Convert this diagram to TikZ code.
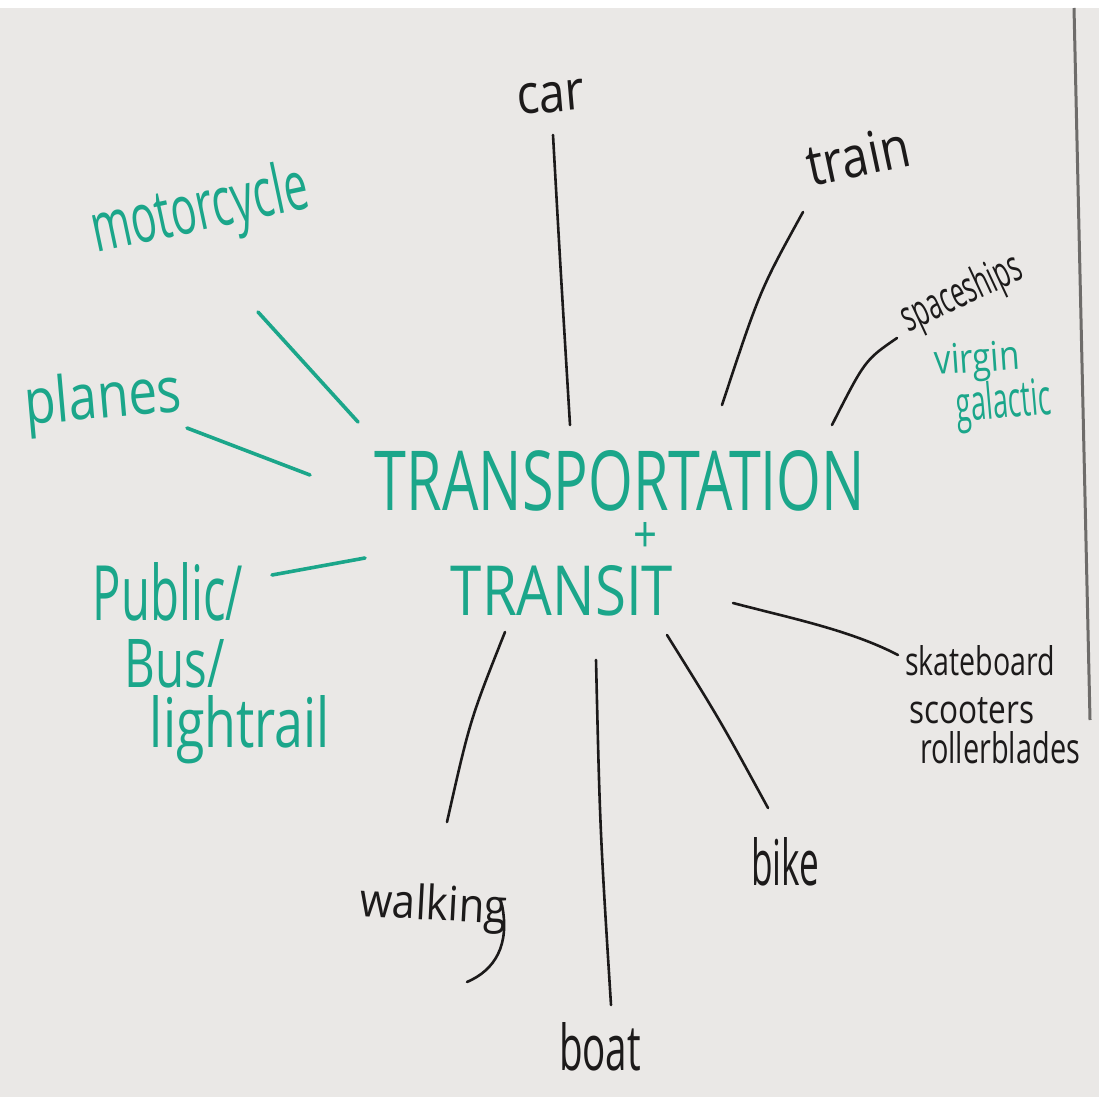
\documentclass[tikz,border=0pt]{standalone}
\usepackage{fontspec}
\setmainfont{Open Sans}
\definecolor{board}{HTML}{EAE8E6}
\definecolor{markteal}{HTML}{1BA68A}
\definecolor{ink}{HTML}{1C1A1A}
\definecolor{frame}{HTML}{6E6C6A}
\newcommand{\fwh}[3]{\resizebox{#1pt}{#2pt}{#3}}
\begin{document}
\begin{tikzpicture}[x=1pt,y=-1pt,
  lbl/.style={inner sep=0pt,text=ink,anchor=base},
  tlbl/.style={inner sep=0pt,text=markteal,anchor=base},
  bline/.style={draw=ink,line width=2.6pt,line cap=round},
  tline/.style={draw=markteal,line width=3.6pt,line cap=round}]
\useasboundingbox (0,0) rectangle (1099,1097);
\fill[board] (0,0) rectangle (1099,1097);
\fill[white] (0,0) rectangle (1099,8);
\draw[frame,line width=3pt] (1074,8) -- (1090,720);

% centre
\node[tlbl] (title) at (620,510) {\fwh{490}{60}{TRANSPORTATION}};
\node[tlbl] (plus) at (645,552) {\fwh{24}{30}{+}};
\node[tlbl] (transit) at (562,615) {\fwh{222}{50}{TRANSIT}};

% labels (placed at their baselines)
\node[lbl,rotate=5] (car) at (552,112) {\fwh{68}{30}{car}};
\node[lbl,rotate=12] (train) at (862,176) {\fwh{104}{42}{train}};
\node[lbl,rotate=25] (space) at (967,305) {\fwh{128}{33}{spaceships}};
\node[tlbl,rotate=4] (virgin) at (978,372) {\fwh{85}{30}{virgin}};
\node[tlbl,rotate=5] (galactic) at (1005,418) {\fwh{95}{38}{galactic}};
\node[tlbl,rotate=12] (moto) at (204,230) {\fwh{220}{52}{motorcycle}};
\node[tlbl,rotate=5] (planes) at (105,418) {\fwh{157}{48}{planes}};
\node[tlbl] (public) at (168,620) {\fwh{150}{58}{Public/}};
\node[tlbl] (bus) at (175,687) {\fwh{100}{48}{Bus/}};
\node[tlbl] (light) at (240,747) {\fwh{180}{52}{lightrail}};
\node[lbl] (skate) at (980,675) {\fwh{150}{30}{skateboard}};
\node[lbl] (scoot) at (972,723) {\fwh{125}{26}{scooters}};
\node[lbl] (roller) at (1000,763) {\fwh{160}{32}{rollerblades}};
\node[lbl] (bike) at (785,885) {\fwh{68}{48}{bike}};
\node[lbl] (boat) at (600,1070) {\fwh{82}{48}{boat}};
\node[lbl,rotate=-3] (walking) at (433,920) {\fwh{147}{36}{walking}};

% connector end points
\coordinate (car-a) at (553,135);   \coordinate (car-b) at (570,425);
\coordinate (train-a) at (803,212); \coordinate (train-b) at (722,405);
\coordinate (space-a) at (897,338); \coordinate (space-b) at (832,425);
\coordinate (moto-a) at (258,312);  \coordinate (moto-b) at (358,422);
\coordinate (planes-a) at (187,428);\coordinate (planes-b) at (310,475);
\coordinate (pub-a) at (272,575);   \coordinate (pub-b) at (365,558);
\coordinate (skate-a) at (733,603); \coordinate (skate-b) at (898,655);
\coordinate (bike-a) at (667,635);  \coordinate (bike-b) at (768,808);
\coordinate (boat-a) at (596,660);  \coordinate (boat-b) at (611,1005);
\coordinate (walk-a) at (505,632);  \coordinate (walk-b) at (447,822);
\coordinate (tail-a) at (502,905);  \coordinate (tail-b) at (467,982);

\draw[bline] (car-a) .. controls (560,260) .. (car-b);
\draw[bline] (train-a) .. controls (760,290) .. (train-b);
\draw[bline] (space-a) .. controls (865,360) .. (space-b);
\draw[tline] (moto-a) -- (moto-b);
\draw[tline] (planes-a) -- (planes-b);
\draw[tline] (pub-a) -- (pub-b);
\draw[bline] (skate-a) .. controls (790,618) and (850,630) .. (skate-b);
\draw[bline] (bike-a) .. controls (720,720) .. (bike-b);
\draw[bline] (boat-a) .. controls (600,830) .. (boat-b);
\draw[bline] (walk-a) .. controls (470,720) .. (walk-b);
\draw[bline] (tail-a) .. controls (510,945) and (495,970) .. (tail-b);
\end{tikzpicture}
\end{document}
